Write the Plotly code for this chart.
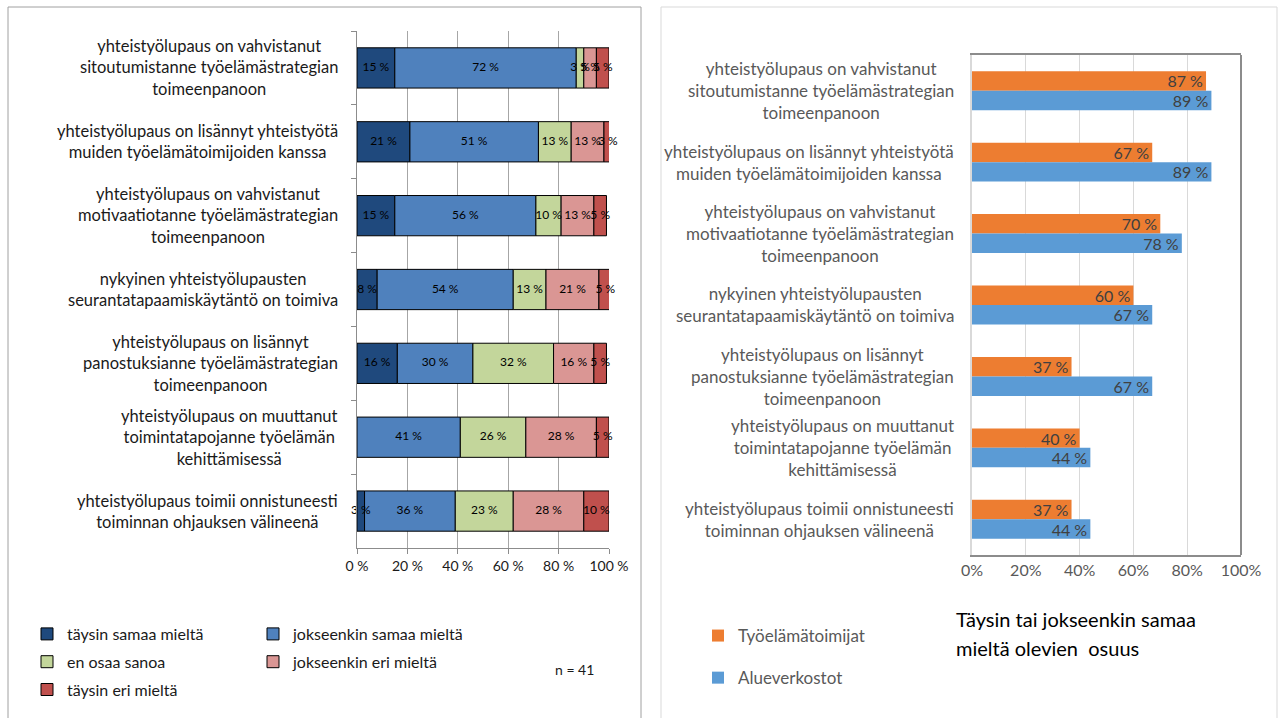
import plotly.graph_objects as go
import numpy as np

# ---------------- data ----------------
categories = [
    "yhteistyölupaus on vahvistanut<br>sitoutumistanne työelämästrategian<br>toimeenpanoon",
    "yhteistyölupaus on lisännyt yhteistyötä<br>muiden työelämätoimijoiden kanssa",
    "yhteistyölupaus on vahvistanut<br>motivaatiotanne työelämästrategian<br>toimeenpanoon",
    "nykyinen yhteistyölupausten<br>seurantatapaamiskäytäntö on toimiva",
    "yhteistyölupaus on lisännyt<br>panostuksianne työelämästrategian<br>toimeenpanoon",
    "yhteistyölupaus on muuttanut<br>toimintatapojanne työelämän<br>kehittämisessä",
    "yhteistyölupaus toimii onnistuneesti<br>toiminnan ohjauksen välineenä",
]

series_names = ["täysin samaa mieltä", "jokseenkin samaa mieltä", "en osaa sanoa",
                "jokseenkin eri mieltä", "täysin eri mieltä"]
taysin_samaa = [15, 21, 15, 8, 16, 0, 3]
jokseenkin_samaa = [72, 51, 56, 54, 30, 41, 36]
en_osaa = [3, 13, 10, 13, 32, 26, 23]
jokseenkin_eri = [5, 13, 13, 21, 16, 28, 28]
taysin_eri = [5, 3, 5, 5, 5, 5, 10]

right_names = ["Työelämätoimijat", "Alueverkostot"]
tyoelamatoimijat = [87, 67, 70, 60, 37, 40, 37]
alueverkostot = [89, 89, 78, 67, 67, 44, 44]

left_ticks = [0, 20, 40, 60, 80, 100]
right_ticks = [0, 20, 40, 60, 80, 100]

title_lines = ["Täysin tai jokseenkin samaa", "mieltä olevien\u00a0 osuus"]
n_text = "n = 41"

# ---------------- styles ----------------
left_colors = ["#1F497D", "#4F81BD", "#C3D69B", "#DA9694", "#C0504D"]
right_colors = ["#ED7D31", "#5B9BD5"]
FONT = "Lato"
W, H = 1280, 718


def px(x):
    return x / W


def py(y):
    return 1 - y / H


fig = go.Figure()

left_series = [taysin_samaa, jokseenkin_samaa, en_osaa, jokseenkin_eri, taysin_eri]
bases = np.cumsum([np.zeros(len(categories))] + [np.array(s) for s in left_series[:-1]], axis=0)
legend_of = ["legend", "legend3", "legend", "legend3", "legend"]
for i, (name, vals) in enumerate(zip(series_names, left_series)):
    fig.add_trace(go.Bar(
        y=categories, x=vals, base=bases[i], orientation="h", name=name,
        offsetgroup="L", legendgroup=name, legend=legend_of[i],
        marker=dict(color=left_colors[i], line=dict(color="#000000", width=1)),
        xaxis="x", yaxis="y", hoverinfo="x+y+name",
    ))

# segment value labels drawn on top of all bars (so overflowing labels stay visible)
for i, vals in enumerate(left_series):
    keep = [k for k, v in enumerate(vals) if v]
    fig.add_trace(go.Scatter(
        y=[categories[k] for k in keep],
        x=[bases[i][k] + vals[k] / 2 for k in keep],
        text=[f"{vals[k]} %" for k in keep],
        mode="text", textposition="middle center", cliponaxis=False,
        textfont=dict(family=FONT, size=12, color="#000000"),
        showlegend=False, hoverinfo="skip", xaxis="x", yaxis="y",
    ))

for i, (name, vals) in enumerate(zip(right_names, [tyoelamatoimijat, alueverkostot])):
    fig.add_trace(go.Bar(
        y=categories, x=vals, orientation="h", name=name,
        offsetgroup=f"R{i}", legendgroup=name, legend="legend2",
        marker=dict(color=right_colors[i], line=dict(width=0)),
        text=[f"{v} %" for v in vals],
        textposition="inside", insidetextanchor="end", textangle=0,
        constraintext="none",
        insidetextfont=dict(family=FONT, size=16, color="#404040"),
        xaxis="x2", yaxis="y2",
    ))

# category label annotations (centered multi-line)
annotations = []
for c in categories:
    annotations.append(dict(x=px(340), xref="paper", y=c, yref="y", text=c,
                            xanchor="right", yanchor="middle", align="center",
                            showarrow=False, font=dict(family=FONT, size=16.5, color="#1a1a1a")))
    annotations.append(dict(x=px(956), xref="paper", y=c, yref="y2", text=c,
                            xanchor="right", yanchor="middle", align="center",
                            showarrow=False, font=dict(family=FONT, size=17, color="#595959")))

annotations.append(dict(x=px(553), y=py(669), xref="paper", yref="paper", text=n_text,
                        xanchor="left", yanchor="middle", showarrow=False,
                        font=dict(family=FONT, size=14, color="#1a1a1a")))
for k, line in enumerate(title_lines):
    annotations.append(dict(x=px(954), y=py(619 + 29 * k), xref="paper", yref="paper",
                            text=line, xanchor="left", yanchor="middle", align="left",
                            showarrow=False,
                            font=dict(family=FONT, size=20, color="#000000")))

shapes = [
    dict(type="rect", xref="paper", yref="paper", x0=px(8), x1=px(641), y0=py(730), y1=py(7),
         line=dict(color="#a0a0a0", width=1), layer="below"),
    dict(type="rect", xref="paper", yref="paper", x0=px(661), x1=px(1277), y0=py(730), y1=py(7),
         line=dict(color="#d9d9d9", width=1), layer="below"),
    dict(type="line", xref="x2 domain", yref="y2 domain", x0=1, x1=1, y0=0, y1=1,
         line=dict(color="#8c8c8c", width=2)),
]

fig.update_layout(
    width=W, height=H, autosize=False, margin=dict(l=0, r=0, t=0, b=0, pad=0, autoexpand=False),
    paper_bgcolor="white", plot_bgcolor="white",
    barmode="group", bargap=0.455, bargroupgap=0,
    font=dict(family=FONT, color="#1a1a1a"),
    annotations=annotations, shapes=shapes,
    xaxis=dict(domain=[px(357), px(609)], anchor="y", range=[0, 100], automargin=False,
               tickvals=left_ticks, ticktext=[f"{t} %" for t in left_ticks],
               showgrid=True, gridcolor="#a6a6a6", gridwidth=1, zeroline=False,
               showline=True, linecolor="#8c8c8c", linewidth=1,
               ticks="outside", ticklen=5, tickcolor="#8c8c8c",
               tickfont=dict(family=FONT, size=14, color="#1a1a1a")),
    yaxis=dict(domain=[py(548), py(31)], anchor="x", type="category", automargin=False,
               categoryorder="array", categoryarray=categories, autorange="reversed",
               showticklabels=False, showgrid=False, showline=True,
               linecolor="#8c8c8c", linewidth=1, ticks="outside", tickson="boundaries",
               ticklen=5, tickcolor="#8c8c8c"),
    xaxis2=dict(domain=[px(972), px(1241)], anchor="y2", range=[0, 100], automargin=False,
                tickvals=right_ticks, ticktext=[f"{t}%" for t in right_ticks],
                showgrid=True, gridcolor="#d9d9d9", gridwidth=1, zeroline=False,
                showline=True, mirror=True, linecolor="#8c8c8c", linewidth=2,
                ticks="", tickfont=dict(family=FONT, size=16, color="#595959")),
    yaxis2=dict(domain=[py(555), py(55)], anchor="x2", type="category", automargin=False,
                categoryorder="array", categoryarray=categories, autorange="reversed",
                showticklabels=False, showgrid=False, showline=True,
                linecolor="#d9d9d9", linewidth=2, ticks=""),
    legend=dict(x=px(27), y=py(617), xanchor="left", yanchor="top",
                orientation="v", traceorder="grouped", tracegroupgap=4,
                bgcolor="rgba(0,0,0,0)", font=dict(family=FONT, size=16, color="#1a1a1a")),
    legend3=dict(x=px(253), y=py(617), xanchor="left", yanchor="top",
                 orientation="v", traceorder="grouped", tracegroupgap=4,
                 bgcolor="rgba(0,0,0,0)", font=dict(family=FONT, size=16, color="#1a1a1a")),
    legend2=dict(x=px(698), y=py(618), xanchor="left", yanchor="top",
                 orientation="v", traceorder="grouped", tracegroupgap=17,
                 bgcolor="rgba(0,0,0,0)", font=dict(family=FONT, size=17, color="#595959")),
)

fig.write_html("out.html")
